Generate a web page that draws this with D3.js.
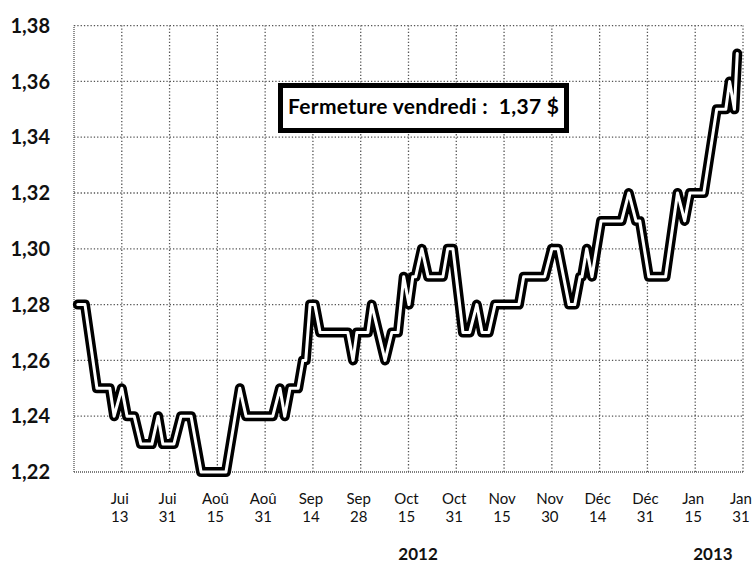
<!DOCTYPE html>
<html><head><meta charset="utf-8">
<script src="https://cdn.jsdelivr.net/npm/d3@7"></script>
<style>
html,body{margin:0;padding:0;background:#fff;}
svg{display:block;}
text{font-family:Lato,"Open Sans",sans-serif;}
</style></head>
<body>
<svg id="chart" width="756" height="563"></svg>
<script>
// x in "jour" units (10 units per tick interval), y = exchange rate
const jours = [0.8,2.3,4.8,7.5,8.4,10.0,11.1,12.6,14.0,16.3,17.6,18.6,20.9,22.4,24.5,26.6,31.8,34.7,36.0,41.6,43.1,44.1,45.2,46.9,47.9,48.5,49.4,50.4,51.5,57.3,58.4,59.2,61.5,62.3,65.1,66.5,67.8,69.0,70.1,70.9,71.5,72.8,74.1,77.2,78.2,79.3,81.4,82.8,84.3,85.4,86.8,88.1,93.1,94.1,98.5,100.0,101.3,103.6,104.8,105.9,106.3,107.3,108.4,110.3,114.6,116.1,117.6,118.4,120.3,123.8,126.3,127.8,128.9,131.8,134.5,136.4,137.2,138.2,138.8];
const taux  = [1.28,1.28,1.25,1.25,1.24,1.25,1.24,1.24,1.23,1.23,1.24,1.23,1.23,1.24,1.24,1.22,1.22,1.25,1.24,1.24,1.25,1.24,1.25,1.25,1.26,1.26,1.28,1.28,1.27,1.27,1.26,1.27,1.27,1.28,1.26,1.27,1.27,1.29,1.28,1.29,1.29,1.30,1.29,1.29,1.30,1.30,1.27,1.27,1.28,1.27,1.27,1.28,1.28,1.29,1.29,1.30,1.30,1.28,1.28,1.29,1.29,1.30,1.29,1.31,1.31,1.32,1.31,1.31,1.29,1.29,1.32,1.31,1.32,1.32,1.35,1.35,1.36,1.35,1.37];

const tickPos    = [10,20,30,40,50,60,70,80,90,100,110,120,130,140];
const tickMonths = ["Jui","Jui","Aoû","Aoû","Sep","Sep","Oct","Oct","Nov","Nov","Déc","Déc","Jan","Jan"];
const tickDays   = ["13","31","15","31","14","28","15","31","15","30","14","31","15","31"];
const gridX      = [0,10,20,30,40,50,60,70,80,90,100,110,120,130,140];
const yTicks     = [1.22,1.24,1.26,1.28,1.30,1.32,1.34,1.36,1.38];
const yearLabels = ["2012","2013"];
const yearPos    = [72,133.7];
const legendText = "Fermeture vendredi :  1,37 $";

const W = 756, H = 563;
const margin = {left:74, right:13, top:25.6, bottom:91};
const svg = d3.select("#chart");

const x = d3.scaleLinear().domain([0,140]).range([margin.left, W - margin.right]);
const y = d3.scaleLinear().domain([1.22,1.38]).range([H - margin.bottom, margin.top]);

const fmt = v => d3.format(".2f")(v).replace(".", ",");

// grid
const g = svg.append("g");
g.selectAll("line.h").data(yTicks).join("line")
  .attr("x1", x(0)).attr("x2", x(140))
  .attr("y1", d => y(d)).attr("y2", d => y(d))
  .attr("stroke", "#555").attr("stroke-width", 1.3)
  .attr("stroke-dasharray", d => d === 1.22 ? "1,1" : "1.3,2");
g.selectAll("line.v").data(gridX).join("line")
  .attr("y1", y(1.22)).attr("y2", y(1.38))
  .attr("x1", d => x(d)).attr("x2", d => x(d))
  .attr("stroke", "#555").attr("stroke-width", 1.3)
  .attr("stroke-dasharray", d => d === 0 ? "1,1" : "1.3,2");

// y labels
svg.append("g").selectAll("text").data(yTicks).join("text")
  .attr("x", 50).attr("y", d => y(d)).attr("dy", "0.36em")
  .attr("text-anchor", "end")
  .attr("font-size", 20).attr("font-weight", 700).attr("fill", "#111")
  .text(fmt);

// x labels
const xl = svg.append("g");
xl.selectAll("text.m").data(tickPos).join("text")
  .attr("class", "m")
  .attr("x", d => x(d) - 2).attr("y", 504)
  .attr("text-anchor", "middle").attr("font-size", 15).attr("fill", "#111")
  .text((d,i) => tickMonths[i]);
xl.selectAll("text.d").data(tickPos).join("text")
  .attr("class", "d")
  .attr("x", d => x(d) - 2).attr("y", 522)
  .attr("text-anchor", "middle").attr("font-size", 15).attr("fill", "#111")
  .text((d,i) => tickDays[i]);
xl.selectAll("text.yr").data(yearLabels).join("text")
  .attr("class", "yr")
  .attr("x", (d,i) => x(yearPos[i])).attr("y", 560)
  .attr("text-anchor", "middle").attr("font-size", 17).attr("font-weight", 700).attr("fill", "#111")
  .text(d => d);

// line
const data = jours.map((j,i) => ({j, v: taux[i]}));
const line = d3.line().x(d => x(d.j)).y(d => y(d.v));
svg.append("path").datum(data).attr("d", line)
  .attr("fill", "none").attr("stroke", "#000").attr("stroke-width", 10)
  .attr("stroke-linejoin", "round").attr("stroke-linecap", "round");
svg.append("path").datum(data).attr("d", line)
  .attr("fill", "none").attr("stroke", "#fff").attr("stroke-width", 3)
  .attr("stroke-linejoin", "round").attr("stroke-linecap", "round");

// legend box
const lg = svg.append("g");
lg.append("rect").attr("x", 280.5).attr("y", 85.5).attr("width", 286).attr("height", 45)
  .attr("fill", "#fff").attr("stroke", "#000").attr("stroke-width", 5);
lg.append("text").attr("x", 288).attr("y", 114)
  .attr("font-size", 21).attr("font-weight", 700).attr("fill", "#000")
  .attr("letter-spacing", 0.3)
  .style("white-space", "pre")
  .text(legendText);
</script>
</body></html>
